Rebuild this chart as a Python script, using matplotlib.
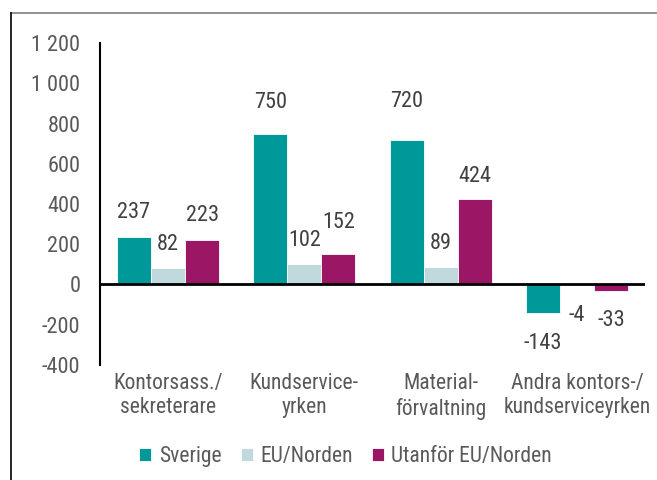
import matplotlib.pyplot as plt
import matplotlib.lines as mlines
import numpy as np
from matplotlib.ticker import FuncFormatter

plt.rcParams['font.family'] = ['Liberation Sans Narrow', 'Roboto Condensed',
                               'Roboto', 'DejaVu Sans']

categories = ["Kontorsass./\nsekreterare", "Kundservice-\nyrken",
              "Material-\nförvaltning", "Andra kontors-/\nkundserviceyrken"]
series_names = ["Sverige", "EU/Norden", "Utanför EU/Norden"]
sverige = [237, 750, 720, -143]
eu_norden = [82, 102, 89, -4]
utanfor = [223, 152, 424, -33]
colors = ["#009999", "#c0d9dc", "#9b1664"]
text_color = "#595959"

# label offsets (points) per series, as Excel placed them
label_offsets = [[10, 15, 20, -14], [9, 9, 9, -14], [10, 15, 9, -14]]

fig = plt.figure(figsize=(6.57, 4.8), dpi=100)
ax = fig.add_axes([0.152, 0.240, 0.830, 0.670])

x = np.arange(len(categories))
width = 0.25
for i, (name, vals) in enumerate(zip(series_names, [sverige, eu_norden, utanfor])):
    pos = x + (i - 1) * width
    bars = ax.bar(pos, vals, width, color=colors[i], label=name,
                  edgecolor="white", linewidth=0.6)
    for j, (b, v) in enumerate(zip(bars, vals)):
        ax.annotate(str(v), (b.get_x() + b.get_width() / 2, v),
                    xytext=(0, label_offsets[i][j]), textcoords="offset points",
                    ha="center", va="bottom" if v >= 0 else "top",
                    fontsize=16, color="#404040")

ax.set_xlim(-0.5, 3.5)
ax.set_ylim(-400, 1200)
ax.set_yticks(range(-400, 1201, 200))
ax.yaxis.set_major_formatter(FuncFormatter(lambda v, p: f"{int(v):,}".replace(",", " ")))
ax.set_xticks(x)
ax.set_xticklabels(categories, fontsize=15.5)
ax.tick_params(axis="both", length=0, colors=text_color)
ax.tick_params(axis="y", pad=14, labelsize=16)
ax.tick_params(axis="x", pad=6)
for s in ["top", "right", "bottom"]:
    ax.spines[s].set_visible(False)
ax.spines["left"].set_linewidth(1.5)
ax.axhline(0, color="black", linewidth=2)

ax.legend(loc="center", bbox_to_anchor=(0.451, -0.286), ncol=3, frameon=False,
          fontsize=15.5, labelcolor=text_color, handlelength=0.55, handleheight=0.55,
          handletextpad=0.35, columnspacing=0.9)

# outer frame lines (top and left)
fig.add_artist(mlines.Line2D([0.016, 1.0], [0.973, 0.973], color="#7f7f7f", linewidth=1.2))
fig.add_artist(mlines.Line2D([0.016, 0.016], [0.0, 0.973], color="black", linewidth=1.2))

plt.savefig("out.png", dpi=100)
